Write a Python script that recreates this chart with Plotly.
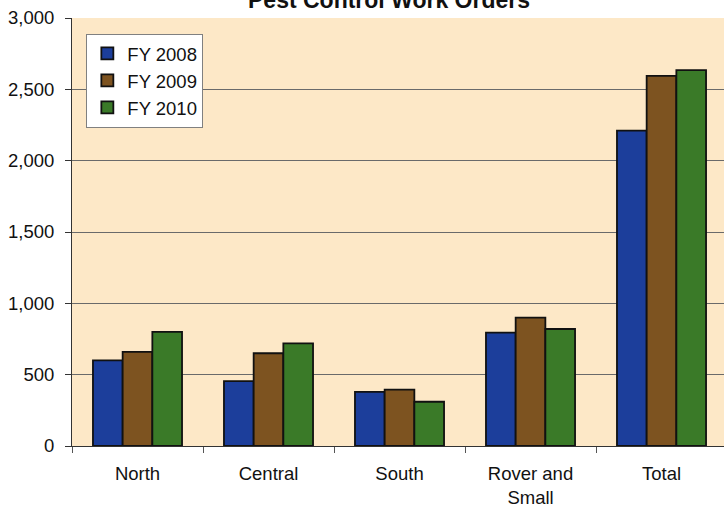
import plotly.graph_objects as go

categories = ["North", "Central", "South", "Rover and<br>Small", "Total"]
series_names = ["FY 2008", "FY 2009", "FY 2010"]
fy2008 = [600, 455, 380, 795, 2210]
fy2009 = [660, 650, 395, 900, 2595]
fy2010 = [800, 720, 310, 820, 2635]
y_ticks = [0, 500, 1000, 1500, 2000, 2500, 3000]
y_tick_labels = ["0", "500", "1,000", "1,500", "2,000", "2,500", "3,000"]
title_text = "Pest Control Work Orders"

colors = ["#1C3E9B", "#7D5320", "#3A7A28"]
FONT = "Liberation Sans, Arial, sans-serif"

fig = go.Figure()
for i, (name, vals) in enumerate(zip(series_names, [fy2008, fy2009, fy2010])):
    fig.add_trace(go.Bar(
        x=categories, y=vals, name=name, legendgroup=name,
        marker=dict(color=colors[i], line=dict(color="#111111", width=1.8)),
    ))

fig.update_layout(
    width=724, height=510,
    margin=dict(l=72, r=0, t=18, b=64, autoexpand=False),
    paper_bgcolor="white",
    plot_bgcolor="#FDE8C7",
    barmode="group", bargap=0.32, bargroupgap=0,
    font=dict(family=FONT, size=18.5, color="#111111"),
    showlegend=True,
    legend=dict(
        x=0.022, y=0.963, xanchor="left", yanchor="top",
        bgcolor="white", bordercolor="#808080", borderwidth=1,
        font=dict(size=18.5, family=FONT, color="#111111"),
        tracegroupgap=12, traceorder="normal",
    ),
    annotations=[dict(
        text="<b>" + title_text + "</b>", xref="paper", yref="paper",
        x=(389 - 72) / 652, y=1 + 18 / 428, xanchor="center", yanchor="middle",
        showarrow=False, font=dict(size=23, family=FONT, color="#111111"),
    )],
)

fig.update_xaxes(
    range=[-0.5, 4.477], showgrid=False, automargin=False,
    showline=True, linecolor="#333333", linewidth=1,
    ticks="outside", tickson="boundaries", ticklen=6, tickcolor="#555555",
    tickfont=dict(size=18.5, family=FONT, color="#111111"),
    ticklabelstandoff=11,
)
fig.update_yaxes(
    range=[0, 3000], tickvals=y_ticks, ticktext=y_tick_labels, automargin=False,
    showgrid=True, gridcolor="#6a6a6a", gridwidth=1,
    showline=True, linecolor="#333333", linewidth=1,
    ticks="outside", ticklen=6, tickcolor="#333333",
    tickfont=dict(size=18.5, family=FONT, color="#111111"),
    ticklabelstandoff=7, zeroline=False,
)

fig.write_html(
    "out.html",
    config={"displayModeBar": False},
    post_script="document.body.style.margin='0';document.body.style.overflow='hidden';",
)
